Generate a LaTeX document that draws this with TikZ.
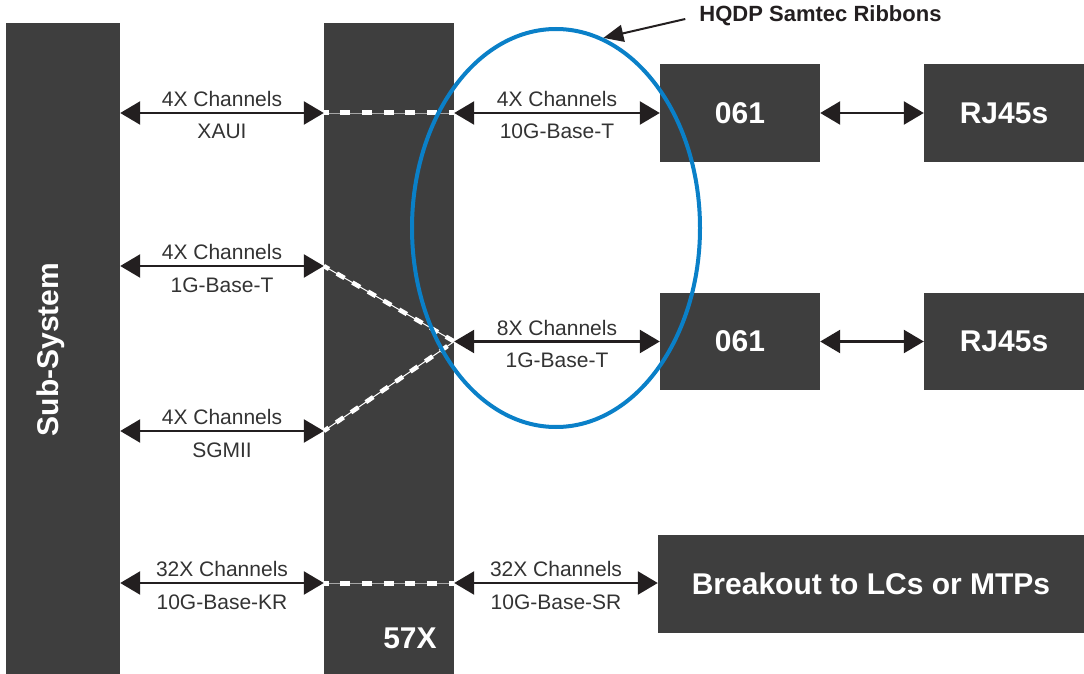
\documentclass[tikz,border=0pt]{standalone}
\usepackage{fontspec}
\setmainfont{Liberation Sans}
\usetikzlibrary{arrows.meta,shapes.geometric}
\definecolor{barc}{HTML}{3E3E3E}
\definecolor{ink}{HTML}{231F20}
\definecolor{lblc}{HTML}{333333}
\definecolor{ringc}{HTML}{0A80C8}
\begin{document}
\begin{tikzpicture}[x=1pt,y=-1pt,
  blk/.style={fill=barc, draw=none, inner sep=0pt, text=white,
    font=\fontsize{30}{36}\selectfont\bfseries},
  wtxt/.style={inner sep=0pt, text=white, font=\fontsize{30}{36}\selectfont\bfseries},
  arr/.style={draw=ink, line width=2.5pt,
    {Triangle[length=20pt,width=23pt]}-{Triangle[length=20pt,width=23pt]}},
  lblup/.style={midway, anchor=base, yshift=6.5pt, inner sep=0pt, text=lblc,
    font=\fontsize{21}{25}\selectfont},
  lbldn/.style={midway, anchor=base, yshift=-26pt, inner sep=0pt, text=lblc,
    font=\fontsize{21}{25}\selectfont},
  thinln/.style={draw=white!65!black, line width=0.8pt},
  dashln/.style={draw=white, line width=5pt, dash pattern=on 10pt off 11.67pt, dash phase=5pt},
  diagln/.style={draw=white, line width=4.5pt, dash pattern=on 9pt off 9pt, dash phase=3pt},
  diagthin/.style={draw=white, line width=1pt}
]
\useasboundingbox (0,0) rectangle (1084,674);

% bars
\node[blk, minimum width=114pt, minimum height=651pt] (sub) at (63,348.5) {};
\node[wtxt, rotate=90] (subl) at (51,349.5) {Sub-System};
\node[blk, minimum width=130pt, minimum height=651pt] (sw) at (389,348.5) {};
\node[wtxt, anchor=base] (swl) at (410,648) {57X};

% right boxes
\node[blk, minimum width=160pt, minimum height=97pt] (pa) at (740,113) {061};
\node[blk, minimum width=160pt, minimum height=97pt] (ra) at (1004,113) {RJ45s};
\node[blk, minimum width=160pt, minimum height=97pt] (pb) at (740,341.5) {061};
\node[blk, minimum width=160pt, minimum height=97pt] (rb) at (1004,341.5) {RJ45s};
\node[blk, minimum width=426pt, minimum height=98pt] (bk) at (871,584) {Breakout to LCs or MTPs};

% row coordinates
\coordinate (r1) at (0,113);
\coordinate (r2) at (0,266);
\coordinate (r3) at (0,341.5);
\coordinate (r4) at (0,431);
\coordinate (r5) at (0,583);

% row 1
\draw[arr] (sub.east |- r1) -- (sw.west |- r1)
  node[lblup] {4X Channels} node[lbldn] {XAUI};
\draw[thinln] (sw.west |- r1) -- (sw.east |- r1);
\draw[dashln] (sw.west |- r1) -- (sw.east |- r1);
\draw[arr] (sw.east |- r1) -- (pa.west)
  node[lblup] {4X Channels} node[lbldn] {10G-Base-T};
\draw[arr] (pa.east) -- (ra.west);

% rows 2-4
\draw[arr] (sub.east |- r2) -- (sw.west |- r2)
  node[lblup] {4X Channels} node[lbldn] {1G-Base-T};
\draw[arr] (sub.east |- r4) -- (sw.west |- r4)
  node[lblup] {4X Channels} node[lbldn] {SGMII};
\draw[diagthin] (sw.west |- r2) -- (sw.east |- r3);
\draw[diagln] (sw.west |- r2) -- (sw.east |- r3);
\draw[diagthin] (sw.west |- r4) -- (sw.east |- r3);
\draw[diagln] (sw.west |- r4) -- (sw.east |- r3);
\draw[arr] (sw.east |- r3) -- (pb.west)
  node[lblup] {8X Channels} node[lbldn] {1G-Base-T};
\draw[arr] (pb.east) -- (rb.west);

% row 5
\draw[arr] (sub.east |- r5) -- (sw.west |- r5)
  node[lblup] {32X Channels} node[lbldn] {10G-Base-KR};
\draw[thinln] (sw.west |- r5) -- (sw.east |- r5);
\draw[dashln] (sw.west |- r5) -- (sw.east |- r5);
\draw[arr] (sw.east |- r5) -- (bk.west |- r5)
  node[lblup] {32X Channels} node[lbldn] {10G-Base-SR};

% ellipse and callout
\node[ellipse, draw=ringc, line width=4pt, minimum width=288pt, minimum height=398pt,
  inner sep=0pt] (ring) at (556,228) {};
\node[inner sep=0pt, text=ink, font=\fontsize{22}{26}\selectfont\bfseries] (hq) at (820.5,16) {HQDP Samtec Ribbons};
\draw[draw=ink, line width=2pt, -{Triangle[length=20pt,width=17pt]}]
  ([xshift=-14pt,yshift=-3pt]hq.west) -- (ring.76);
\end{tikzpicture}
\end{document}
